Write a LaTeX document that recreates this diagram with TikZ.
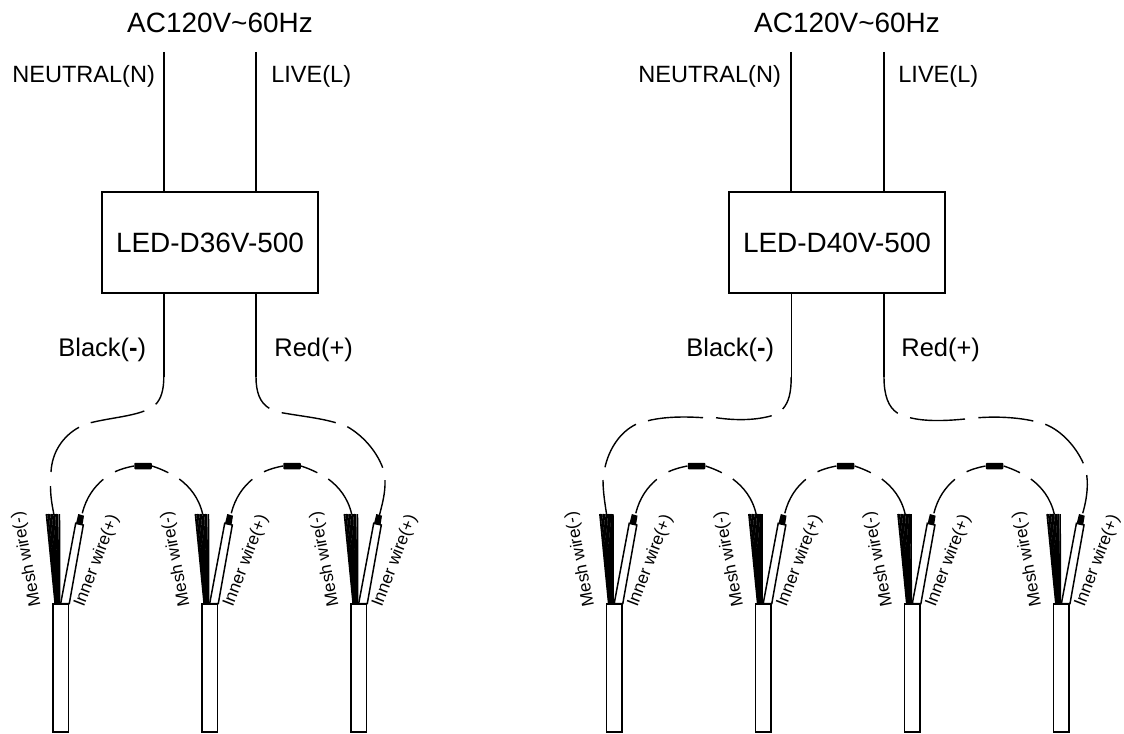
\documentclass[tikz,border=0pt]{standalone}
\usepackage{fontspec}
\setmainfont{Liberation Sans}
\tikzset{
    wire/.style={black, line width=0.8pt},
    driverbox/.style={draw=black, line width=0.85pt, minimum width=4.32cm, minimum height=2.02cm, inner sep=0pt, font=\fontsize{15.9}{18}\selectfont},
    supplytext/.style={inner sep=0pt, anchor=base, font=\fontsize{15.9}{18}\selectfont},
    linetext/.style={inner sep=0pt, anchor=base west, font=\fontsize{13.4}{16}\selectfont},
    outtext/.style={inner sep=0pt, anchor=base west, font=\fontsize{14.5}{17}\selectfont},
    cabletext/.style={inner sep=0pt, font=\fontsize{9.8}{11}\selectfont},
    splice/.style={fill=black, rounded corners=0.5pt, minimum width=0.35cm, minimum height=0.13cm, inner sep=0pt},
}
\begin{document}
\begin{tikzpicture}[x=0.02cm, y=-0.02cm]
        \useasboundingbox (0,0) rectangle (1124,733);

        % 36V driver
        \node [supplytext] (supplya) at (220,33) {AC120V\string~60Hz};
        \node [linetext] (neutrala) at (12,83) {NEUTRAL(N)};
        \node [linetext] (livea) at (271,83) {LIVE(L)};
        \node [driverbox] (drivera) at (210,242.5) {LED-D36V-500};
        \node [outtext] (blacka) at (58,356) {Black(\textbf{-})};
        \node [outtext] (reda) at (274,356) {Red(+)};
        \coordinate (ina) at (163.8,52);
        \coordinate (inb) at (256,52);
        \coordinate (outa) at (163.8,377);
        \coordinate (outb) at (256,377);
        \draw [wire] (ina) to (ina |- drivera.north);
        \draw [wire] (inb) to (inb |- drivera.north);
        \draw [wire] (outa |- drivera.south) to (outa);
        \draw [wire] (outb |- drivera.south) to (outb);

        \draw [wire] (outa) .. controls (163.8,390) and (161,399) .. (155.7,404.3);
        \draw [wire] (144.3,411) .. controls (130,416.5) and (110,418) .. (90.7,422.7);
        \draw [wire] (79,427.3) .. controls (63,436) and (52,452) .. (51,472);
        \draw [wire] (50.5,486) .. controls (50.5,496) and (52,505) .. (54,515);

        \draw [wire] (outb) .. controls (256,392) and (260,403) .. (269.3,408.3);
        \draw [wire] (281.7,412.7) .. controls (300,416) and (320,418) .. (335.7,422.7);
        \draw [wire] (347.3,426.7) .. controls (362,435) and (376,450) .. (382.7,467.7);
        \draw [wire] (385,480) .. controls (385.5,493) and (382,505) .. (379.5,515);

        % 40V driver
        \node [supplytext] (supplyb) at (847,33) {AC120V\string~60Hz};
        \node [linetext] (neutralb) at (638,83) {NEUTRAL(N)};
        \node [linetext] (liveb) at (898,83) {LIVE(L)};
        \node [driverbox] (driverb) at (837,242.5) {LED-D40V-500};
        \node [outtext] (blackb) at (686,356) {Black(\textbf{-})};
        \node [outtext] (redb) at (901,356) {Red(+)};
        \coordinate (inc) at (791,52);
        \coordinate (ind) at (884,52);
        \coordinate (outc) at (791.2,377);
        \coordinate (outd) at (884,377);
        \draw [wire] (inc) to (inc |- driverb.north);
        \draw [wire] (ind) to (ind |- driverb.north);
        \draw [wire] (outc |- driverb.south) to (outc);
        \draw [wire] (outd |- driverb.south) to (outd);

        \draw [wire] (outc) .. controls (791.2,392) and (789,402) .. (782.7,409);
        \draw [wire] (771.7,415.7) .. controls (755,420.5) and (735,420.5) .. (716,417.7);
        \draw [wire] (703,417.7) .. controls (685,416.5) and (665,416.5) .. (648,420.7);
        \draw [wire] (636,424.3) .. controls (620,432) and (609,449) .. (605,467.3);
        \draw [wire] (603,480) .. controls (603,492) and (605,504) .. (606.7,515);

        \draw [wire] (outd) .. controls (884,395) and (888,407) .. (897.7,413.3);
        \draw [wire] (910,417.7) .. controls (925,421.5) and (945,421) .. (965,419);
        \draw [wire] (978.3,417.7) .. controls (995,416.5) and (1015,417) .. (1033.3,421);
        \draw [wire] (1045.3,424.3) .. controls (1062,431) and (1076,447) .. (1083.3,463.3);
        \draw [wire] (1086.7,475) .. controls (1088.5,488) and (1086,502) .. (1082.7,513.3);

        % links between neighbouring cables
        \foreach \xc [count=\i] in {53,202,606.5,755.5,904.6}
        {
            \begin{scope}[shift={(\xc,0)}]
                \node [splice] (splice\i) at (90,466) {};
                \draw [wire] (29.3,513.3) .. controls (33,498) and (41,487) .. (50.3,479.3);
                \draw [wire] (62,471.7) .. controls (68,469) and (74,467.3) .. (splice\i.west);
                \draw [wire] (splice\i.east) .. controls (105,468) and (110,470) .. (115.3,472.7);
                \draw [wire] (126.3,479) .. controls (137,487) and (146,498) .. (149.7,514.3);
            \end{scope}
        }

        % cables
        \foreach \xc [count=\i] in {53,202,351,606.5,755.5,904.6,1053.7}
        {
            \begin{scope}[shift={(\xc,0)}]
                \foreach \t/\b in {-6.6/2.2, -5/2.8, -3.4/3.4, -1.8/4, -0.2/4.6, 1.4/5.2, 3/5.8, 4.4/6.2, 6.4/6.6}
                    \draw [black, line width=0.95pt] (\t,514) to (\b,604);
                \draw [black, line width=0.85pt, fill=white] (7.7,603.5) to (22.7,523.3) to (30.3,525) to (16.3,603.5) -- cycle;
                \fill [black] (25.3,514) -- (31,515.7) -- (29.5,525) -- (23,523.3) -- cycle;
                \draw [black, line width=0.85pt, fill=white] (0,604) rectangle (15.3,732);
                \node [cabletext, rotate=101] (mesh\i) at (-26,559) {Mesh wire(-)};
                \node [cabletext, rotate=69] (inner\i) at (44,561) {Inner wire(+)};
            \end{scope}
        }
\end{tikzpicture}
\end{document}
